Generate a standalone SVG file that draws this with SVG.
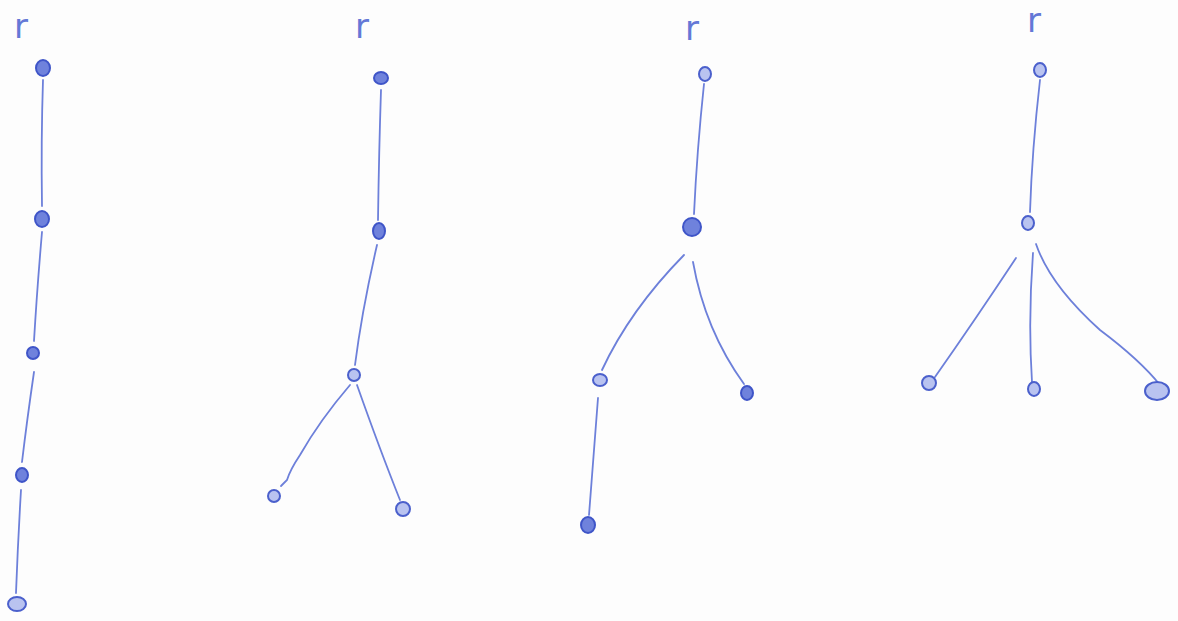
<svg xmlns="http://www.w3.org/2000/svg" width="1178" height="621" viewBox="0 0 1178 621">
<style>
.e{fill:none;stroke:#6d80da;stroke-width:1.8;stroke-linecap:round}
.n{fill:#6f82dc;stroke:#3f55c8;stroke-width:2}
.s{fill:#b9c3f0;stroke:#4b60cc;stroke-width:2}
.r{font-family:"DejaVu Sans",sans-serif;font-size:34px;fill:#6478d6}
</style>
<rect width="1178" height="621" fill="#fdfdfd"/>
<g id="connectors">
<path class="e" d="M43 80 Q41 140 42 206"/>
<path class="e" d="M42 232 Q37 290 34 341"/>
<path class="e" d="M34 372 Q27 420 22 462"/>
<path class="e" d="M21 490 Q18 540 16 593"/>
<path class="e" d="M381 90 Q379 150 378 220"/>
<path class="e" d="M377 245 Q362 310 355 365"/>
<path class="e" d="M350 385 Q320 420 300 455 Q290 470 287 480 L281 486"/>
<path class="e" d="M357 385 Q380 450 400 500"/>
<path class="e" d="M704 84 Q697 150 694 214"/>
<path class="e" d="M684 255 Q630 310 602 370"/>
<path class="e" d="M693 262 Q705 330 744 384"/>
<path class="e" d="M598 398 Q593 460 589 515"/>
<path class="e" d="M1040 80 Q1032 150 1030 212"/>
<path class="e" d="M1016 258 Q975 320 935 377"/>
<path class="e" d="M1033 253 Q1028 320 1032 382"/>
<path class="e" d="M1036 244 Q1050 285 1100 330 Q1140 360 1160 385"/>
</g>
<g id="tree1">
<text class="r" x="14" y="38">r</text>
<g id="t1n1"><ellipse class="n" cx="43" cy="68" rx="7" ry="8"/></g>
<g id="t1n2"><ellipse class="n" cx="42" cy="219" rx="7" ry="8"/></g>
<g id="t1n3"><ellipse class="n" cx="33" cy="353" rx="6" ry="6"/></g>
<g id="t1n4"><ellipse class="n" cx="22" cy="475" rx="6" ry="7"/></g>
<g id="t1n5"><ellipse class="s" cx="17" cy="604" rx="9" ry="7"/></g>
</g>
<g id="tree2">
<text class="r" x="355" y="38">r</text>
<g id="t2n1"><ellipse class="n" cx="381" cy="78" rx="7" ry="6"/></g>
<g id="t2n2"><ellipse class="n" cx="379" cy="231" rx="6" ry="8"/></g>
<g id="t2n3"><ellipse class="s" cx="354" cy="375" rx="6" ry="6"/></g>
<g id="t2n4"><ellipse class="s" cx="274" cy="496" rx="6" ry="6"/></g>
<g id="t2n5"><ellipse class="s" cx="403" cy="509" rx="7" ry="7"/></g>
</g>
<g id="tree3">
<text class="r" x="685" y="40">r</text>
<g id="t3n1"><ellipse class="s" cx="705" cy="74" rx="6" ry="7"/></g>
<g id="t3n2"><ellipse class="n" cx="692" cy="227" rx="9" ry="9"/></g>
<g id="t3n3"><ellipse class="s" cx="600" cy="380" rx="7" ry="6"/></g>
<g id="t3n4"><ellipse class="n" cx="747" cy="393" rx="6" ry="7"/></g>
<g id="t3n5"><ellipse class="n" cx="588" cy="525" rx="7" ry="8"/></g>
</g>
<g id="tree4">
<text class="r" x="1027" y="32">r</text>
<g id="t4n1"><ellipse class="s" cx="1040" cy="70" rx="6" ry="7"/></g>
<g id="t4n2"><ellipse class="s" cx="1028" cy="223" rx="6" ry="7"/></g>
<g id="t4n3"><ellipse class="s" cx="929" cy="383" rx="7" ry="7"/></g>
<g id="t4n4"><ellipse class="s" cx="1034" cy="389" rx="6" ry="7"/></g>
<g id="t4n5"><ellipse class="s" cx="1157" cy="391" rx="12" ry="9"/></g>
</g>
</svg>
